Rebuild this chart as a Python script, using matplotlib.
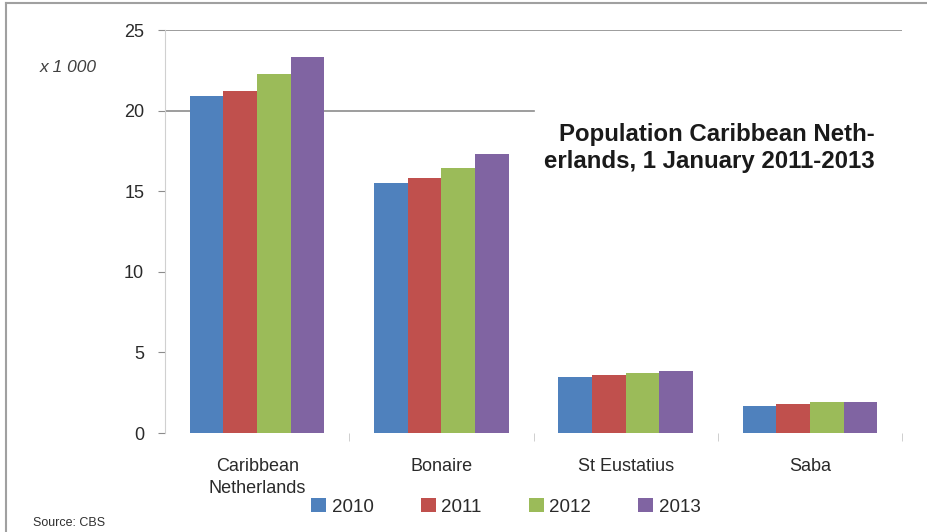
import numpy as np
import matplotlib.pyplot as plt
from matplotlib.lines import Line2D

# Data (x 1 000 inhabitants)
categories = ["Caribbean\nNetherlands", "Bonaire", "St Eustatius", "Saba"]
years = ["2010", "2011", "2012", "2013"]
pop_2010 = [20.9, 15.5, 3.5, 1.70]
pop_2011 = [21.2, 15.8, 3.62, 1.82]
pop_2012 = [22.3, 16.45, 3.72, 1.92]
pop_2013 = [23.3, 17.3, 3.85, 1.93]
series = [pop_2010, pop_2011, pop_2012, pop_2013]
colors = ["#4F81BD", "#C0504D", "#9BBB59", "#8064A2"]

txt = "#2a2a2a"
plt.rcParams["font.family"] = ["Liberation Sans", "DejaVu Sans"]

fig = plt.figure(figsize=(9.28, 5.32), dpi=100)
ax = fig.add_axes([0.1778, 0.186, 0.7942, 0.7576])

x = np.arange(len(categories))
w = 0.1825
for i, (vals, c) in enumerate(zip(series, colors)):
    ax.bar(x + (i - 1.5) * w, vals, w, color=c, label=years[i], zorder=2)

ax.set_xlim(-0.5, 3.5)
ax.set_ylim(0, 25)

# only the top gridlines are visible in the original
ax.axhline(25, color="#8c8c8c", lw=1.2, zorder=1)
ax.axhline(20, xmax=0.5, color="#8c8c8c", lw=1.2, zorder=1)

for s in ["top", "right", "bottom"]:
    ax.spines[s].set_visible(False)
ax.spines["left"].set_color("#d0d0d0")

ax.set_yticks([0, 5, 10, 15, 20, 25])
ax.set_yticklabels(["0", "5", "10", "15", "20", "25"], fontsize=13, color=txt)
ax.tick_params(axis="y", length=5, color="#8c8c8c", pad=10)

ax.set_xticks(x)
ax.set_xticklabels(categories, fontsize=13, linespacing=1.4, color=txt)
ax.tick_params(axis="x", length=0, pad=18)
ax.set_xticks(np.arange(0.5, 4, 1), minor=True)
ax.tick_params(axis="x", which="minor", length=6, color="#c8c8c8", direction="out")

ax.text(-0.092, 0.895, "x 1 000", transform=ax.transAxes, fontsize=12.5,
        style="italic", color="#404040", ha="right")

ax.text(0.739, 0.707, "Population Caribbean Neth-\nerlands, 1 January 2011-2013",
        transform=ax.transAxes, ha="center", va="center", multialignment="right",
        fontsize=17.3, fontweight="bold", color="#1a1a1a", linespacing=1.2)

leg = fig.legend(loc="center", bbox_to_anchor=(0.545, 0.047), ncol=4, frameon=False,
                 prop={"size": 13.5}, handlelength=0.8, labelcolor=txt,
                 handleheight=0.8, handletextpad=0.3, columnspacing=2.5)

fig.text(0.036, 0.012, "Source: CBS", fontsize=9, color="#303030")

# frame of the original picture
fig.add_artist(Line2D([0.006, 0.006], [0, 0.994], color="#a0a0a0", lw=1.5))
fig.add_artist(Line2D([0.006, 1.0], [0.994, 0.994], color="#a0a0a0", lw=1.5))

fig.savefig("out.png", dpi=100)
